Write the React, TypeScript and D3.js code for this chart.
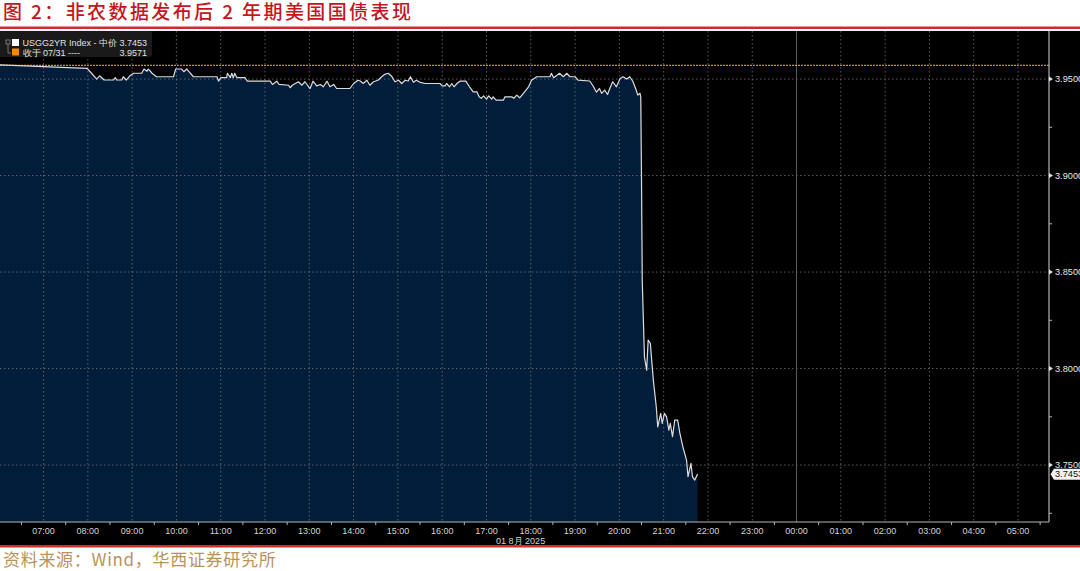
import React from "react";
import * as d3 from "d3";

const TITLE = "图 2：非农数据发布后 2 年期美国国债表现";
const SOURCE = "资料来源：Wind，华西证券研究所";
const LEGEND_MAIN = "USGG2YR Index - 中价";
const LEGEND_PREV = "收于 07/31 ----";
const LAST_VALUE = 3.7453;
const PREV_CLOSE = 3.9571;
const DATE_LABEL = "01 8月 2025";

const hourLabels = ["07:00","08:00","09:00","10:00","11:00","12:00","13:00","14:00","15:00","16:00","17:00","18:00","19:00","20:00","21:00","22:00","23:00","00:00","01:00","02:00","03:00","04:00","05:00"];
const yTicks = [3.75, 3.8, 3.85, 3.9, 3.95];
const yMinorTicks = [3.725, 3.775, 3.825, 3.875, 3.925];
const timeDomain = ["06:01", "05:42"];
const yDomain = [3.7205, 3.9749];

const yieldSeries: [string, number][] = [
  ["06:01",3.9573],["07:59",3.9555],["08:05",3.9530],["08:12",3.9500],["08:16",3.9517],["08:22",3.9495],
  ["08:35",3.9495],["08:37",3.9508],["08:39",3.9495],["08:46",3.9495],["08:48",3.9512],["08:52",3.9495],
  ["08:57",3.9517],["09:02",3.9530],["09:13",3.9530],["09:16",3.9552],["09:20",3.9541],["09:22",3.9552],
  ["09:27",3.9530],["09:33",3.9512],["09:56",3.9512],["09:59",3.9552],["10:07",3.9552],["10:10",3.9538],
  ["10:14",3.9552],["10:17",3.9538],["10:23",3.9512],["10:55",3.9512],["10:57",3.9489],["11:00",3.9507],
  ["11:08",3.9507],["11:09",3.9530],["11:13",3.9507],["11:15",3.9530],["11:17",3.9507],["11:19",3.9530],
  ["11:22",3.9507],["11:33",3.9507],["11:36",3.9489],["12:07",3.9489],["12:10",3.9472],["12:16",3.9489],
  ["12:19",3.9472],["12:32",3.9468],["12:34",3.9455],["12:37",3.9468],["12:45",3.9486],["12:50",3.9468],
  ["12:54",3.9486],["13:01",3.9451],["13:05",3.9489],["13:10",3.9465],["13:15",3.9472],["13:19",3.9460],
  ["13:24",3.9489],["13:28",3.9460],["13:33",3.9472],["13:37",3.9451],["13:55",3.9451],["14:00",3.9477],
  ["14:06",3.9494],["14:09",3.9490],["14:13",3.9477],["14:18",3.9494],["14:22",3.9468],["14:27",3.9486],
  ["14:33",3.9494],["14:38",3.9512],["14:42",3.9524],["14:47",3.9530],["14:52",3.9512],["14:56",3.9486],
  ["15:01",3.9494],["15:05",3.9477],["15:10",3.9494],["15:14",3.9490],["15:17",3.9512],["15:21",3.9483],
  ["15:25",3.9494],["15:30",3.9483],["15:37",3.9477],["15:57",3.9477],["16:00",3.9465],["16:04",3.9465],
  ["16:06",3.9477],["16:10",3.9460],["16:13",3.9477],["16:16",3.9460],["16:20",3.9477],["16:24",3.9489],
  ["16:32",3.9489],["16:37",3.9460],["16:42",3.9434],["16:47",3.9434],["16:50",3.9408],["16:53",3.9400],
  ["16:56",3.9413],["17:00",3.9396],["17:03",3.9413],["17:07",3.9396],["17:09",3.9408],["17:13",3.9391],
  ["17:23",3.9391],["17:25",3.9408],["17:34",3.9408],["17:37",3.9400],["17:41",3.9417],["17:45",3.9403],
  ["17:50",3.9426],["17:57",3.9460],["18:01",3.9494],["18:08",3.9512],["18:26",3.9512],["18:28",3.9530],
  ["18:31",3.9507],["18:39",3.9530],["18:44",3.9512],["18:49",3.9530],["18:53",3.9512],["19:00",3.9512],
  ["19:04",3.9494],["19:20",3.9490],["19:25",3.9460],["19:29",3.9432],["19:33",3.9451],["19:36",3.9426],
  ["19:40",3.9443],["19:44",3.9420],["19:47",3.9451],["19:51",3.9486],["19:56",3.9460],["20:01",3.9503],
  ["20:05",3.9512],["20:10",3.9500],["20:14",3.9512],["20:18",3.9490],["20:22",3.9451],["20:25",3.9417],
  ["20:28",3.9426],["20:29",3.9408],["20:30",3.8978],["20:31",3.8459],["20:32",3.8320],["20:34",3.8061],
  ["20:37",3.7992],["20:39",3.8148],["20:42",3.8130],["20:46",3.7940],["20:50",3.7802],["20:52",3.7698],
  ["20:56",3.7768],["20:58",3.7716],["21:01",3.7768],["21:04",3.7750],["21:07",3.7681],["21:09",3.7716],
  ["21:12",3.7647],["21:15",3.7733],["21:19",3.7733],["21:22",3.7664],["21:26",3.7595],["21:31",3.7526],
  ["21:33",3.7440],["21:37",3.7509],["21:39",3.7440],["21:42",3.7422],["21:46",3.7453],
];

// session starts at 06:00, hours before that belong to the next day
const toHours = (s: string) => {
  const [h, m] = s.split(":").map(Number);
  const v = h + m / 60;
  return h < 6 ? v + 24 : v;
};

const W = 1080;
const H = 571;
const PLOT_L = 0;
const PLOT_R = 1049;
const PLOT_T = 31;
const PLOT_B = 522;
const AXIS_FONT = "'Liberation Sans', Arial, sans-serif";
const CJK_FONT = "'Noto Sans CJK SC', 'Noto Sans', sans-serif";

export default function App() {
  const x = d3.scaleLinear().domain(timeDomain.map(toHours)).range([PLOT_L, PLOT_R]);
  const y = d3.scaleLinear().domain(yDomain).range([PLOT_B, PLOT_T]);

  const pts = yieldSeries.map(([t, v]) => ({ t: toHours(t), v }));
  const line = d3.line<{ t: number; v: number }>().x((d) => x(d.t)).y((d) => y(d.v));
  const area = d3
    .area<{ t: number; v: number }>()
    .x((d) => x(d.t))
    .y0(PLOT_B)
    .y1((d) => y(d.v));

  const hourVals = hourLabels.map(toHours);
  const halfHours = d3.range(6.5, 30, 1).filter((h) => x(h) > PLOT_L && x(h) < PLOT_R);
  const dateCenter = (x(toHours("17:00")) + x(toHours("18:00"))) / 2 + 12;
  const yLast = y(LAST_VALUE);

  return (
    <svg
      width={W}
      height={H}
      viewBox={`0 0 ${W} ${H}`}
      style={{ position: "fixed", left: 0, top: 0, display: "block", background: "#fff" }}
    >
      {/* title */}
      <text x={3} y={19} fontFamily={CJK_FONT} fontSize={19} fontWeight={500} fill="#c4161c" letterSpacing={2.4}>
        {TITLE}
      </text>
      <rect x={0} y={26.5} width={W} height={2.5} fill="#cf2a2e" />

      {/* chart background */}
      <rect x={0} y={PLOT_T} width={W} height={545 - PLOT_T} fill="#000" />
      <rect x={0} y={545} width={W} height={2.5} fill="#d9282d" />

      {/* area */}
      <path d={area(pts) || ""} fill="#021d3a" />

      {/* grid */}
      {yTicks.map((v) => (
        <line key={"hg" + v} x1={PLOT_L} x2={PLOT_R} y1={y(v)} y2={y(v)} stroke="#7a7a7a" strokeOpacity={0.75} strokeWidth={1} strokeDasharray="1.5,2.5" />
      ))}
      {hourVals.map((h, i) => (
        <line
          key={"vg" + i}
          x1={x(h)}
          x2={x(h)}
          y1={PLOT_T}
          y2={PLOT_B}
          stroke={hourLabels[i] === "00:00" ? "#666" : "#7a7a7a"}
          strokeOpacity={hourLabels[i] === "00:00" ? 0.9 : 0.75}
          strokeWidth={1}
          strokeDasharray={hourLabels[i] === "00:00" ? undefined : "1.5,2.5"}
        />
      ))}

      {/* previous close */}
      <line x1={PLOT_L} x2={PLOT_R} y1={y(PREV_CLOSE)} y2={y(PREV_CLOSE)} stroke="#e8890c" strokeWidth={1.2} strokeDasharray="2,1" />

      <path d={line(pts) || ""} fill="none" stroke="#dcdcdc" strokeWidth={1.2} strokeLinejoin="round" />

      {/* axes */}
      <line x1={PLOT_L} x2={PLOT_R} y1={PLOT_B} y2={PLOT_B} stroke="#b5b5b5" strokeWidth={1} />
      <line x1={PLOT_R} x2={PLOT_R} y1={PLOT_T} y2={PLOT_B} stroke="#b5b5b5" strokeWidth={1.2} />
      {halfHours.map((h) => (
        <line key={"xt" + h} x1={x(h)} x2={x(h)} y1={PLOT_B} y2={PLOT_B + 3} stroke="#b5b5b5" strokeWidth={1} />
      ))}
      {hourVals.map((h, i) => (
        <text key={"xl" + i} x={x(h)} y={533.5} textAnchor="middle" fontFamily={AXIS_FONT} fontSize={9} fill="#d4d4d4">
          {hourLabels[i]}
        </text>
      ))}
      <text x={dateCenter} y={543.5} textAnchor="middle" fontFamily={AXIS_FONT} fontSize={9} fill="#d4d4d4">
        {DATE_LABEL}
      </text>

      {yMinorTicks.map((v) => (
        <line key={"ym" + v} x1={PLOT_R} x2={PLOT_R + 3} y1={y(v)} y2={y(v)} stroke="#b5b5b5" strokeWidth={1} />
      ))}
      {yTicks.map((v) => (
        <g key={"yt" + v}>
          <path d={`M${PLOT_R},${y(v) - 2.5}L${PLOT_R + 4},${y(v)}L${PLOT_R},${y(v) + 2.5}Z`} fill="#e0e0e0" />
          <text x={1055} y={y(v) + 3.3} fontFamily={AXIS_FONT} fontSize={9.2} fill="#e6e6e6">
            {v.toFixed(4)}
          </text>
        </g>
      ))}

      {/* last value tag */}
      <path
        d={`M${PLOT_R + 1.5},${yLast}L${PLOT_R + 5},${yLast - 5.5}L${W + 2},${yLast - 5.5}L${W + 2},${yLast + 5.5}L${PLOT_R + 5},${yLast + 5.5}Z`}
        fill="#f2f2f2"
      />
      <text x={1055} y={yLast + 3.3} fontFamily={AXIS_FONT} fontSize={9.2} fill="#111">
        {LAST_VALUE.toFixed(4)}
      </text>

      {/* legend */}
      <rect x={-3} y={PLOT_T} width={155} height={26} rx={3} fill="#1a1a1a" />
      <rect x={6} y={40} width={4} height={4} fill="none" stroke="#8c8c8c" strokeWidth={0.8} />
      <path d="M8,44V53H11" fill="none" stroke="#8c8c8c" strokeWidth={0.8} />
      <rect x={12} y={39} width={7} height={7} fill="#ffffff" />
      <rect x={12} y={48.5} width={7} height={7} fill="#f08c00" />
      <text x={22.5} y={46} fontFamily={AXIS_FONT} fontSize={9} fill="#e0e0e0">
        {LEGEND_MAIN}
      </text>
      <text x={147} y={46} textAnchor="end" fontFamily={AXIS_FONT} fontSize={9} fill="#e0e0e0">
        {LAST_VALUE.toFixed(4)}
      </text>
      <text x={22.5} y={55.5} fontFamily={AXIS_FONT} fontSize={9} fill="#e0e0e0">
        {LEGEND_PREV}
      </text>
      <text x={147} y={55.5} textAnchor="end" fontFamily={AXIS_FONT} fontSize={9} fill="#e0e0e0">
        {PREV_CLOSE.toFixed(4)}
      </text>

      {/* source */}
      <text x={3} y={566} fontFamily={CJK_FONT} fontSize={17} fill="#b8935a" letterSpacing={0.7}>
        {SOURCE}
      </text>
    </svg>
  );
}
